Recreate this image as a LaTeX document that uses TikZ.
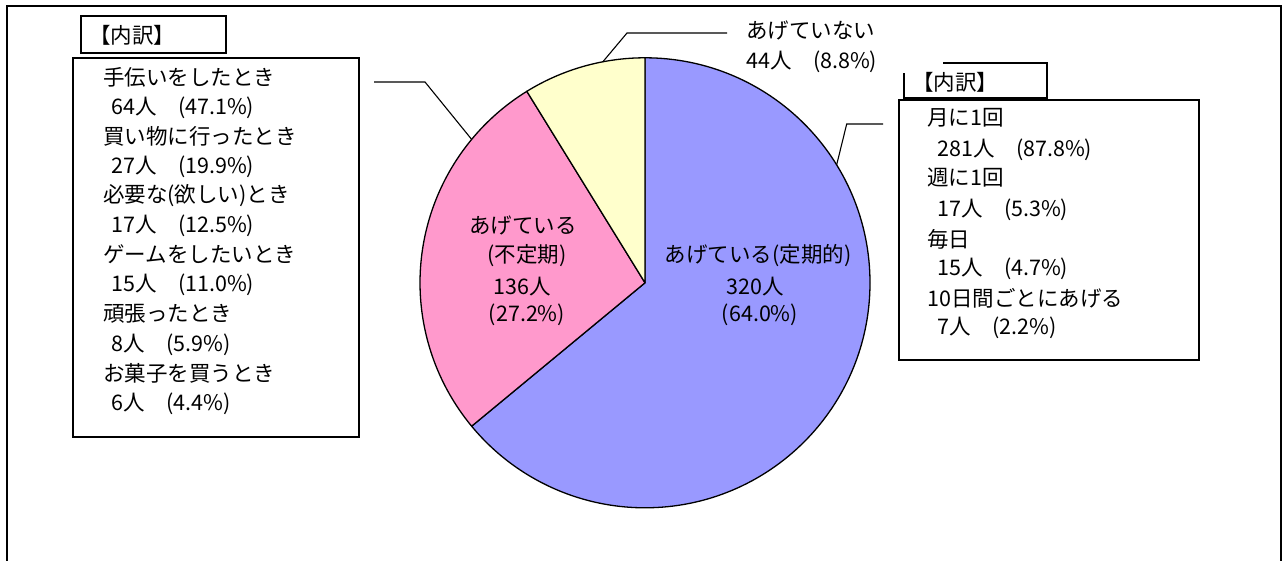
\documentclass[tikz,border=0pt]{standalone}
\usepackage{fontspec}
\usetikzlibrary{calc}
\newfontfamily\jp{Noto Sans CJK JP}
\definecolor{pieblue}{HTML}{9999FF}
\definecolor{piepink}{HTML}{FF99CC}
\definecolor{pieyellow}{HTML}{FFFFCC}
\begin{document}
\begin{tikzpicture}[x=1pt,y=1pt,
  txt/.style={font=\jp\fontsize{21.5}{25}\selectfont, inner sep=0pt, anchor=west},
  ctxt/.style={font=\jp\fontsize{21.5}{25}\selectfont, inner sep=0pt, anchor=center},
  frame/.style={draw=black, line width=1.6pt},
  boxline/.style={draw=black, line width=1.3pt},
  wedge/.style={draw=black, line width=1.3pt, line join=round},
  leader/.style={draw=black, line width=1.1pt}]
\useasboundingbox (0,0) rectangle (1285,560);
\fill[white] (0,0) rectangle (1285,560);
% outer frame
\draw[frame] (7,-10) -- (7,554) -- (1281,554) -- (1281,-10);
% pie
\coordinate (C) at (645,277.2);
\def\R{225}
\filldraw[wedge, fill=pieblue] (C) -- ++(90:\R) arc[start angle=90, end angle=-140.4, radius=\R] -- cycle;
\filldraw[wedge, fill=piepink] (C) -- ++(-140.4:\R) arc[start angle=-140.4, end angle=-238.32, radius=\R] -- cycle;
\filldraw[wedge, fill=pieyellow] (C) -- ++(121.68:\R) arc[start angle=121.68, end angle=90, radius=\R] -- cycle;
% leader anchor points on the pie
\coordinate (pinkpt) at ($(C)+(140.4:\R)$);
\coordinate (yelpt) at ($(C)+(100.8:\R)$);
\coordinate (bluept) at ($(C)+(31.6:\R)$);
\coordinate (pinkbend) at (425,478);
\coordinate (pinkend) at (374,478);
\coordinate (yelbend) at (627,527);
\coordinate (yelend) at (727,527);
\coordinate (bluebend) at (846.7,436);
\coordinate (blueend) at (883,436);
\draw[leader] (pinkend) -- (pinkbend) -- (pinkpt);
\draw[leader] (yelend) -- (yelbend) -- (yelpt);
\draw[leader] (blueend) -- (bluebend) -- (bluept);
% left boxes
\draw[boxline] (81,507) rectangle (226,544);
\node[txt] (lh) at (89,525) {【内訳】};
\draw[boxline] (73,123) rectangle (359,502);
\node[txt] (l1) at (103,483.0) {手伝いをしたとき};
\node[txt] (l2) at (111,452.4) {64人　(47.1\%)};
\node[txt] (l3) at (103,423.8) {買い物に行ったとき};
\node[txt] (l4) at (111,393.2) {27人　(19.9\%)};
\node[txt] (l5) at (103,364.6) {必要な(欲しい)とき};
\node[txt] (l6) at (111,334.0) {17人　(12.5\%)};
\node[txt] (l7) at (103,305.4) {ゲームをしたいとき};
\node[txt] (l8) at (111,274.8) {15人　(11.0\%)};
\node[txt] (l9) at (103,246.2) {頑張ったとき};
\node[txt] (l10) at (111,215.6) {8人　(5.9\%)};
\node[txt] (l11) at (103,187.0) {お菓子を買うとき};
\node[txt] (l12) at (111,156.4) {6人　(4.4\%)};
% right boxes
\draw[boxline] (943,497) -- (1047,497) -- (1047,462) -- (904,462) -- (904,487);
\node[txt] (rh) at (912,478) {【内訳】};
\draw[boxline] (899,200) rectangle (1199,460);
\node[txt] (r1) at (927,442) {月に1回};
\node[txt] (r2) at (937,410) {281人　(87.8\%)};
\node[txt] (r3) at (927,382) {週に1回};
\node[txt] (r4) at (937,350) {17人　(5.3\%)};
\node[txt] (r5) at (927,321) {毎日};
\node[txt] (r6) at (937,291) {15人　(4.7\%)};
\node[txt] (r7) at (927,262) {10日間ごとにあげる};
\node[txt] (r8) at (937,232) {7人　(2.2\%)};
% yellow label
\node[txt] (y1) at (746,530) {あげていない};
\node[txt] (y2) at (746,498.3) {44人　(8.8\%)};
% pink label
\node[ctxt] (p1) at (523,335) {あげている};
\node[ctxt] (p2) at (527,304) {(不定期)};
\node[ctxt] (p3) at (522,273) {136人};
\node[ctxt] (p4) at (527,245) {(27.2\%)};
% blue label
\node[ctxt] (b1) at (758,304) {あげている(定期的)};
\node[ctxt] (b2) at (755,273) {320人};
\node[ctxt] (b3) at (760,245) {(64.0\%)};
\end{tikzpicture}
\end{document}
